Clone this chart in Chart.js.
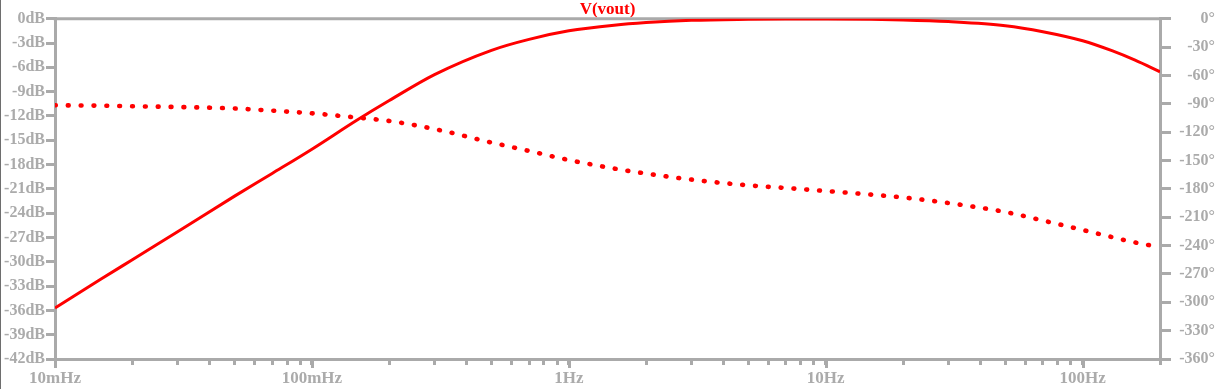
<!DOCTYPE html>
<html>
<head>
<meta charset="utf-8">
<script src="https://cdn.jsdelivr.net/npm/chart.js@4/dist/chart.umd.min.js"></script>
<style>
  html, body { margin: 0; padding: 0; background: #ffffff; }
  #wrap { position: relative; width: 1219px; height: 389px; }
  #edge { position: absolute; left: 0; top: 0; width: 1px; height: 389px; background: #6e6e6e; }
</style>
</head>
<body>
<div id="wrap">
  <canvas id="c" width="1219" height="389"></canvas>
  <div id="edge"></div>
</div>
<script>
// ---- data ----
const freqHz = [0.01, 0.015, 0.02, 0.03, 0.05, 0.07, 0.1, 0.15, 0.2, 0.3, 0.5, 0.7, 1, 1.5, 2, 3, 5, 7, 10, 15, 20, 30, 50, 70, 100, 130, 160, 200];
const magDb = [-35.7, -32.2, -29.75, -26.3, -21.9, -19.1, -16.1, -12.5, -10.1, -6.9, -3.9, -2.55, -1.5, -0.8, -0.48, -0.2, -0.07, -0.03, -0.03, -0.07, -0.15, -0.36, -0.86, -1.6, -2.72, -3.95, -5.12, -6.55];
const phaseDeg = [-91.6, -92.0, -92.6, -93.4, -95.0, -97.3, -100.1, -104.6, -108.2, -116.7, -131.0, -139.9, -149.5, -158.5, -163.8, -170.2, -176.3, -179.1, -182.3, -186.1, -189.1, -195.0, -204.5, -213.5, -223.5, -231.0, -236.8, -241.5];

const decadeTicks = [0.01, 0.1, 1, 10, 100];
const decadeLabels = ['10mHz', '100mHz', '1Hz', '10Hz', '100Hz'];
const minorMultipliers = [2, 3, 4, 5, 6, 7, 8, 9];
const xMin = 0.01, xMax = 200;
const dbMin = -42, dbMax = 0, dbStep = 3;
const degMin = -360, degMax = 0, degStep = 30;
const seriesName = 'V(vout)';

const GRAY = '#aaaaaa';
const TXT = '#ababab';
const FAM = '"Liberation Serif", "Times New Roman", serif';
const FONT_Y = { family: FAM, size: 16, weight: 'bold' };
const FONT_X = { family: FAM, size: 17, weight: 'bold' };

const magPts = freqHz.map((f, i) => ({ x: f, y: magDb[i] }));
const phPts = freqHz.map((f, i) => ({ x: f, y: phaseDeg[i] }));

// all x tick values: decades plus 2..9 minors
const xTickValues = [];
decadeTicks.forEach(d => {
  xTickValues.push(d);
  minorMultipliers.forEach(m => { const v = +(d * m).toPrecision(6); if (v <= xMax) xTickValues.push(v); });
});
xTickValues.sort((a, b) => a - b);

const framePlugin = {
  id: 'frameTop',
  beforeDatasetsDraw(chart) {
    const a = chart.chartArea, ctx = chart.ctx;
    const xs = chart.scales.x;
    ctx.save();
    ctx.strokeStyle = GRAY;
    ctx.lineWidth = 3;
    ctx.beginPath();
    ctx.moveTo(a.left - 1.5, a.top);
    ctx.lineTo(a.right + 1.5, a.top);
    // longer marks at the decade ticks
    decadeTicks.forEach(d => {
      const px = Math.round(xs.getPixelForValue(d)) + 0.5;
      ctx.moveTo(px, a.bottom);
      ctx.lineTo(px, a.bottom + 9);
    });
    ctx.stroke();
    ctx.restore();
  }
};

new Chart(document.getElementById('c'), {
  type: 'line',
  data: {
    datasets: [
      {
        label: seriesName + ' mag',
        data: magPts,
        yAxisID: 'y',
        borderColor: '#ff0000',
        borderWidth: 3,
        pointRadius: 0,
        cubicInterpolationMode: 'monotone',
        fill: false
      },
      {
        label: seriesName + ' phase',
        data: phPts,
        yAxisID: 'y2',
        borderColor: '#ff0000',
        borderWidth: 4.6,
        borderCapStyle: 'round',
        borderDash: [0.8, 12.05],
        pointRadius: 0,
        cubicInterpolationMode: 'monotone',
        fill: false
      }
    ]
  },
  options: {
    responsive: false,
    animation: false,
    devicePixelRatio: 1,
    layout: { padding: { left: 0, right: 4, top: 0, bottom: 0 } },
    plugins: {
      legend: { display: false },
      tooltip: { enabled: false },
      title: {
        display: true,
        text: seriesName,
        color: '#ff0000',
        font: { family: FAM, size: 17, weight: 'bold', lineHeight: 1.1 },
        padding: { top: 0, bottom: 0 }
      }
    },
    scales: {
      x: {
        type: 'logarithmic',
        min: xMin,
        max: xMax,
        afterBuildTicks: (s) => { s.ticks = xTickValues.map(v => ({ value: v })); },
        afterFit: (s) => { s.height = 30; },
        border: { display: true, color: GRAY, width: 3 },
        grid: { drawOnChartArea: false, drawTicks: true, tickLength: 6, color: GRAY, lineWidth: 3, tickWidth: 3 },
        ticks: {
          autoSkip: false,
          maxRotation: 0,
          minRotation: 0,
          padding: 3,
          color: TXT,
          font: FONT_X,
          callback: (v) => {
            const i = decadeTicks.findIndex(d => Math.abs(d - v) / d < 1e-6);
            return i >= 0 ? decadeLabels[i] : '';
          }
        }
      },
      y: {
        position: 'left',
        min: dbMin,
        max: dbMax,
        afterFit: (s) => { s.width = 55; },
        border: { display: true, color: GRAY, width: 3 },
        grid: { drawOnChartArea: false, drawTicks: true, tickLength: 9, color: GRAY, lineWidth: 3, tickWidth: 3 },
        ticks: {
          stepSize: dbStep,
          autoSkip: false,
          padding: 1,
          color: TXT,
          font: FONT_Y,
          callback: (v) => v + 'dB'
        }
      },
      y2: {
        position: 'right',
        min: degMin,
        max: degMax,
        afterFit: (s) => { s.width = 55; },
        border: { display: true, color: GRAY, width: 3 },
        grid: { drawOnChartArea: false, drawTicks: true, tickLength: 11, color: GRAY, lineWidth: 3, tickWidth: 3 },
        ticks: {
          stepSize: degStep,
          autoSkip: false,
          padding: 3,
          crossAlign: 'far',
          color: TXT,
          font: FONT_Y,
          callback: (v) => v + '°'
        }
      }
    }
  },
  plugins: [framePlugin]
});
</script>
</body>
</html>
